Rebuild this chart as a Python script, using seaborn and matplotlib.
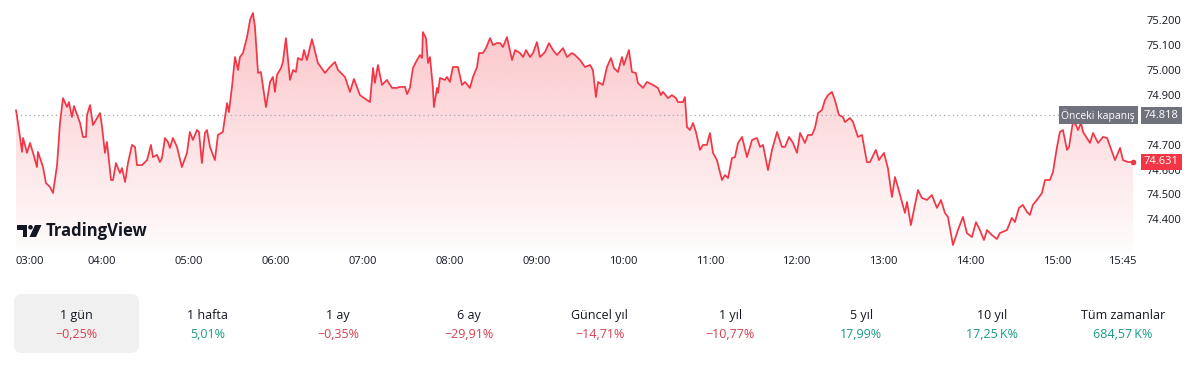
import numpy as np
import matplotlib
matplotlib.use("Agg")
import matplotlib.pyplot as plt
import matplotlib.transforms as mtransforms
from matplotlib.patches import FancyBboxPatch, Polygon, Circle
import seaborn as sns

# ---------------- data (minutes since 03:00, price) ----------------
minutes = [
    0.4, 1.8, 4.6, 5.3, 8.0, 10.1, 12.2, 14.9, 15.6, 19.1, 21.1, 23.9, 26.0, 28.8, 30.8, 32.9,
    35.7, 37.0, 39.1, 40.5, 44.7, 46.7, 48.8, 49.5, 51.6, 53.6, 58.5, 59.9, 61.9, 63.3, 66.1,
    67.5, 69.5, 72.3, 73.7, 75.8, 77.8, 80.6, 82.7, 84.0, 87.5, 91.0, 93.7, 95.1, 97.9, 99.9,
    101.3, 103.4, 105.4, 106.8, 108.9, 111.7, 115.1, 118.6, 120.6, 122.7, 125.5, 126.9, 128.9,
    131.0, 132.4, 134.5, 137.9, 140.0, 143.4, 146.3, 147.6, 149.7, 151.8, 153.9, 155.2, 157.3,
    160.1, 162.2, 164.2, 165.6, 167.7, 169.7, 173.2, 176.0, 178.0, 179.4, 180.8, 183.6, 184.9,
    187.0, 189.8, 191.9, 193.9, 195.3, 198.1, 199.5, 201.5, 205.0, 209.1, 214.0, 217.4, 220.9,
    223.0, 227.8, 231.3, 234.0, 238.2, 243.0, 245.1, 247.2, 248.5, 250.6, 253.4, 256.8, 260.3,
    263.7, 265.8,
    269.3, 270.7, 272.7, 274.8, 277.6, 279.7, 281.1, 281.7, 283.8, 285.2, 286.6, 288.6, 289.3,
    291.4, 292.1, 293.5, 296.9, 298.3, 300.4, 302.4, 305.9, 308.7, 310.8, 314.2, 316.3, 319.1,
    320.5, 323.2, 325.3, 328.1, 330.1, 332.9, 335.0, 337.0, 339.8, 343.3, 345.4, 348.8, 350.9,
    353.0, 355.7, 357.8, 360.5, 362.6, 366.1, 368.8, 371.6, 374.4, 378.5, 381.3, 384.7, 386.8,
    390.3, 393.7, 397.2, 399.2, 401.3, 402.7, 406.1, 408.9, 411.7, 413.7, 416.5, 419.3, 420.6,
    424.1, 426.2, 428.9, 430.3, 433.8, 436.5, 440.7, 444.1, 446.2, 447.6, 451.1, 453.8, 456.6,
    458.0, 461.4, 462.8, 464.2, 466.3, 468.4, 470.4, 473.2, 475.3, 478.0, 480.1, 482.2, 484.9,
    488.4, 490.5, 492.6, 495.3, 497.4, 499.5, 502.3, 505.7, 509.2, 512.6, 514.7, 516.8, 520.2,
    523.0, 526.5, 529.9, 532.0, 534.8, 537.5, 540.3, 542.4,
    545.8, 547.8, 550.6, 552.7, 554.8, 557.5, 559.6, 561.7, 564.4, 566.5, 569.3, 572.0, 573.4,
    576.9, 579.0, 582.4, 585.2, 588.6, 590.7, 594.8, 596.9, 600.4, 603.1, 605.9, 608.0, 610.0,
    612.8, 614.9, 616.3, 619.0, 621.1, 623.9, 626.6, 630.1, 633.5, 637.0, 639.8, 642.5, 644.6,
    648.1, 651.5, 655.0, 657.7, 661.2, 664.0, 666.7, 669.5, 671.6, 675.0, 678.5, 680.5, 685.4,
    688.8, 690.9, 693.7, 696.4, 699.2, 701.3, 703.3, 706.1, 709.6, 711.7, 715.1, 717.2, 720.0,
    722.0, 724.1, 726.9, 728.3, 731.0, 733.1, 734.5, 736.6, 738.0, 742.8, 744.9, 748.4, 751.8,
    754.6, 760.1, 763.6, 765.6, 769.1, 772.6,
]
prices = [
    74.839, 74.787, 74.671, 74.727, 74.667, 74.707, 74.667, 74.610, 74.671, 74.610, 74.546,
    74.530, 74.506, 74.618, 74.787, 74.887, 74.851, 74.871, 74.811, 74.855, 74.787, 74.731,
    74.731, 74.819, 74.859, 74.779, 74.827, 74.771, 74.667, 74.711, 74.558, 74.558, 74.626,
    74.586, 74.606, 74.550, 74.626, 74.699, 74.691, 74.618, 74.618, 74.638, 74.699, 74.650,
    74.659, 74.630, 74.646, 74.727, 74.711, 74.687, 74.727, 74.691, 74.610, 74.667, 74.751,
    74.719, 74.759, 74.751, 74.626, 74.747, 74.759, 74.691, 74.638, 74.739, 74.751, 74.867,
    74.831, 74.932, 75.052, 75.000, 75.052, 75.068, 75.132, 75.201, 75.229, 75.173, 74.988,
    74.992, 74.851, 74.952, 74.972, 74.912, 74.980, 75.008, 75.032, 75.128, 74.960, 75.000,
    74.992, 75.048, 75.040, 75.080, 75.040, 75.124, 75.028, 74.988, 75.012, 75.032, 75.000,
    74.972, 74.912, 74.964, 74.899, 74.879, 74.871, 75.008, 74.948, 75.020, 74.940, 74.960,
    74.928, 74.928, 74.932,
    74.932, 74.903, 74.928, 75.008, 75.040, 75.060, 75.048, 75.152, 75.128, 75.028, 75.052,
    74.928, 74.851, 74.928, 74.908, 74.968, 74.960, 74.972, 74.952, 75.012, 75.012, 74.940,
    74.952, 74.928, 74.972, 75.012, 75.068, 75.068, 75.088, 75.128, 75.100, 75.108, 75.108,
    75.092, 75.132, 75.040, 75.080, 75.068, 75.052, 75.080, 75.052, 75.068, 75.112, 75.052,
    75.072, 75.108, 75.080, 75.060, 75.088, 75.052, 75.068, 75.060, 75.040, 75.012, 75.020,
    75.000, 74.891, 74.952, 74.940, 75.012, 75.048, 75.008, 74.992, 75.052, 75.020, 75.080,
    74.992, 74.988, 74.948, 74.928, 74.952, 74.940, 74.928, 74.899, 74.912, 74.887, 74.899,
    74.887, 74.871, 74.871, 74.891, 74.771, 74.759, 74.787, 74.751, 74.679, 74.699, 74.699,
    74.747, 74.667, 74.638, 74.558, 74.578, 74.566, 74.646, 74.650, 74.707, 74.731, 74.650,
    74.719, 74.727, 74.691, 74.699, 74.598, 74.679, 74.751, 74.691, 74.691, 74.731, 74.707,
    74.667, 74.747,
    74.707, 74.739, 74.739, 74.767, 74.827, 74.839, 74.879, 74.899, 74.912, 74.879, 74.819,
    74.811, 74.791, 74.807, 74.791, 74.731, 74.739, 74.630, 74.630, 74.679, 74.638, 74.667,
    74.606, 74.490, 74.570, 74.530, 74.470, 74.426, 74.470, 74.377, 74.438, 74.518, 74.486,
    74.478, 74.498, 74.446, 74.478, 74.426, 74.410, 74.297, 74.357, 74.410, 74.345, 74.329,
    74.389, 74.357, 74.317, 74.357, 74.337, 74.321, 74.345, 74.357, 74.406, 74.389, 74.446,
    74.458, 74.430, 74.418, 74.458, 74.478, 74.506, 74.558, 74.558, 74.590, 74.691, 74.751,
    74.759, 74.679, 74.691, 74.791, 74.779, 74.759, 74.787, 74.751, 74.707, 74.747, 74.707,
    74.731, 74.727, 74.638, 74.687, 74.638, 74.630, 74.631,
]
prev_close = 74.818
last_price = 74.631
price_ticks = [74.4, 74.5, 74.6, 74.7, 74.8, 74.9, 75.0, 75.1, 75.2]
time_ticks = [0, 60, 120, 180, 240, 300, 360, 420, 480, 540, 600, 660, 720, 765]
time_labels = ["03:00", "04:00", "05:00", "06:00", "07:00", "08:00", "09:00", "10:00",
               "11:00", "12:00", "13:00", "14:00", "15:00", "15:45"]
period_labels = ["1 gün", "1 hafta", "1 ay", "6 ay", "Güncel yıl", "1 yıl", "5 yıl",
                 "10 yıl", "Tüm zamanlar"]
period_changes = ["\u22120,25%", "5,01%", "\u22120,35%", "\u221229,91%", "\u221214,71%",
                  "\u221210,77%", "17,99%", "17,25\u2009K%", "684,57\u2009K%"]

# ---------------- styling ----------------
RED = "#F23645"
NEG = "#D8414E"
POS = "#1A9A84"
TXT = "#131722"
W, H = 1200, 373

sns.set_theme(style="white")
plt.rcParams["font.family"] = ["Open Sans", "DejaVu Sans"]

fig = plt.figure(figsize=(W / 100, H / 100), dpi=100)
fig.patch.set_facecolor("white")

plot_w, plot_h = 1140, 252
ax = fig.add_axes([0, 1 - plot_h / H, plot_w / W, plot_h / H])
ax.set_facecolor("none")

px_per_min = 86.8 / 60.0
x0_px = 15.4
xmin = -x0_px / px_per_min
xmax = (plot_w - x0_px) / px_per_min
ytop = 75.281
ybot = ytop - plot_h * 0.004016

# gradient fill under the line
poly = ax.fill_between(minutes, prices, ybot, color="none", lw=0)
clip = poly.get_paths()[0]
n = 256
rgba = np.zeros((n, 1, 4))
rgba[..., 0], rgba[..., 1], rgba[..., 2] = 242 / 255, 54 / 255, 69 / 255
rgba[:, 0, 3] = np.linspace(0.30, 0.015, n)
im = ax.imshow(rgba, extent=[minutes[0], minutes[-1], ybot, max(prices)],
               aspect="auto", origin="upper", zorder=2, interpolation="bilinear")
im.set_clip_path(clip, transform=ax.transData)

sns.lineplot(x=minutes, y=prices, ax=ax, color=RED, lw=1.25, zorder=4, sort=False)
ax.scatter([minutes[-1]], [prices[-1]], s=16, color=RED, zorder=5, linewidths=0)

ax.hlines(prev_close, minutes[0], xmax, colors="#A3A6AF", linestyles=(0, (1, 2.5)),
          lw=0.9, zorder=3)

ax.set_xlim(xmin, xmax)
ax.set_ylim(ybot, ytop)
for s in ax.spines.values():
    s.set_visible(False)

# tick labels hidden behind the price boxes are left blank
ax.yaxis.tick_right()
ytick_labels = ["" if abs(v - prev_close) < 0.03 else f"{v:.3f}" for v in price_ticks]
ax.set_yticks(price_ticks, ytick_labels)
ax.tick_params(axis="y", length=0, pad=5, labelsize=8, labelcolor=TXT)
ax.set_xticks(time_ticks, time_labels)
ax.tick_params(axis="x", length=0, pad=3, labelsize=8, labelcolor=TXT)
ax.get_xticklabels()[0].set_ha("left")
ax.grid(False)

blend = mtransforms.blended_transform_factory(ax.transAxes, ax.transData)
ax.text(1135 / plot_w, prev_close, "Önceki kapanış", transform=blend, ha="right",
        va="center", color="white", fontsize=7.5, zorder=10, clip_on=False,
        bbox=dict(boxstyle="square,pad=0.25", fc="#6F727C", ec="none"))
ax.text(1144 / plot_w, prev_close, "74.818", transform=blend, ha="left", va="center",
        color="white", fontsize=8, zorder=10, clip_on=False,
        bbox=dict(boxstyle="square,pad=0.25", fc="#6F727C", ec="none"))
ax.text(1144 / plot_w, last_price, f"{last_price:.3f}", transform=blend, ha="left",
        va="center", color="white", fontsize=8, zorder=10, clip_on=False,
        bbox=dict(boxstyle="square,pad=0.25", fc=RED, ec="none"))

# ---------------- TradingView logo ----------------
ident = mtransforms.IdentityTransform()
def P(x, y):
    return (x, H - y)
logo_col = "#131722"
fig.add_artist(Polygon([P(17, 225), P(27, 225), P(27, 237), P(22.5, 237), P(22.5, 229.5),
                        P(17, 229.5)], closed=True, fc=logo_col, ec="none", transform=ident))
fig.add_artist(Circle(P(30.5, 227.3), 2.3, fc=logo_col, ec="none", transform=ident))
fig.add_artist(Polygon([P(35, 225), P(41.5, 225), P(36, 237), P(29.5, 237)], closed=True,
                       fc=logo_col, ec="none", transform=ident))
fig.text(46 / W, 1 - 231 / H, "TradingView", fontsize=12, fontweight="bold",
         color=logo_col, ha="left", va="center")

# ---------------- period tabs ----------------
fig.add_artist(FancyBboxPatch(P(14, 353), 125, 59, boxstyle="round,pad=0,rounding_size=8",
                              fc="#F0F0F0", ec="none", transform=ident))
for i, (lab, val) in enumerate(zip(period_labels, period_changes)):
    cx = (76.5 + 130.8 * i) / W
    fig.text(cx, 1 - 319 / H, lab, ha="center", va="baseline", fontsize=9, color=TXT)
    col = NEG if val.startswith("\u2212") else POS
    fig.text(cx, 1 - 338 / H, val, ha="center", va="baseline", fontsize=9, color=col)

fig.savefig("out.png", dpi=100, facecolor="white")
